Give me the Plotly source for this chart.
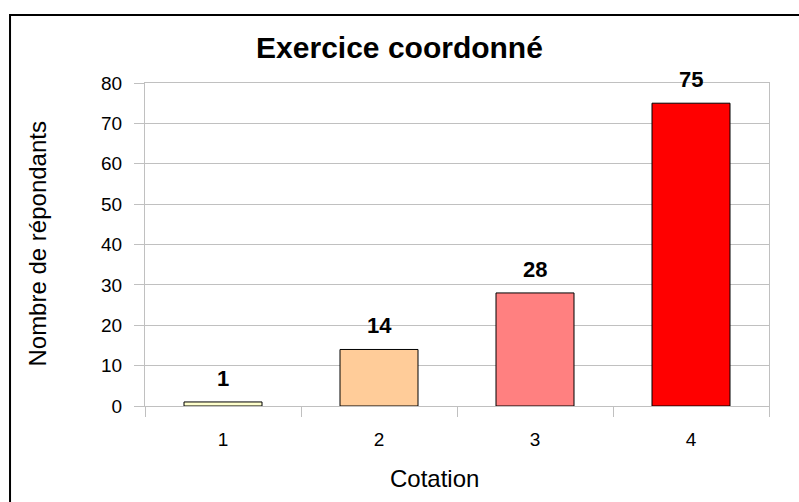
import plotly.graph_objects as go

# Données
cotations = ["1", "2", "3", "4"]
repondants = [1, 14, 28, 75]
couleurs = ["#FFFFCC", "#FFCC99", "#FF8080", "#FF0000"]
y_ticks = [0, 10, 20, 30, 40, 50, 60, 70, 80]

FONT = "Liberation Sans, Arial, sans-serif"
GRIS = "#C0C0C0"

fig = go.Figure()

fig.add_trace(
    go.Bar(
        x=cotations,
        y=repondants,
        width=0.5,
        marker=dict(color=couleurs, line=dict(color="black", width=1)),
        showlegend=False,
    )
)

# étiquettes de valeurs au-dessus des barres (x = position de la catégorie)
for i, val in enumerate(repondants):
    fig.add_annotation(
        x=i, y=val, text=f"<b>{val}</b>", showarrow=False,
        yanchor="bottom", yshift=9,
        font=dict(family=FONT, size=22, color="black"),
    )

# titres des axes
fig.add_annotation(
    text="Cotation", xref="paper", yref="paper", x=0.4647, y=-0.226,
    xanchor="center", yanchor="middle",
    showarrow=False, font=dict(family=FONT, size=24, color="black"),
)
fig.add_annotation(
    text="Nombre de répondants", xref="paper", yref="paper", x=-0.173, y=0.5,
    xanchor="center", yanchor="middle",
    textangle=-90, showarrow=False, font=dict(family=FONT, size=24, color="black"),
)

# cadre extérieur (coupé à droite et en bas)
fig.add_shape(
    type="rect", xref="paper", yref="paper",
    x0=-0.2163, x1=1.3, y0=-0.5, y1=1.2105,
    line=dict(color="black", width=2),
)

fig.update_layout(
    title=dict(
        text="<b>Exercice coordonné</b>", x=0.5, xanchor="center",
        y=1 - 47 / 502, yanchor="middle",
        font=dict(family=FONT, size=30, color="black"),
    ),
    width=799, height=502,
    margin=dict(l=145, r=30, t=83, b=96),
    paper_bgcolor="white", plot_bgcolor="white",
    font=dict(family=FONT, size=19, color="black"),
    xaxis=dict(
        type="category", showline=True, linecolor=GRIS, mirror=True,
        ticks="outside", tickson="boundaries", ticklen=10, tickcolor=GRIS,
        showgrid=False, tickfont=dict(size=19), ticklabelstandoff=16,
    ),
    yaxis=dict(
        range=[0, 80], tickvals=y_ticks, showgrid=True, gridcolor=GRIS,
        showline=True, linecolor=GRIS, mirror=True, zeroline=False,
        ticks="outside", ticklen=10, tickcolor=GRIS, tickfont=dict(size=19),
        ticklabelstandoff=8,
    ),
)

fig.write_html(
    "out.html",
    config={"displayModeBar": False},
    post_script="document.body.style.margin = '0';",
)
